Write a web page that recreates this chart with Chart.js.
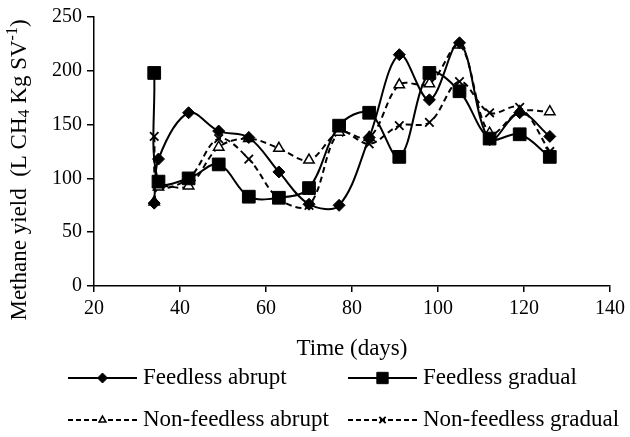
<!DOCTYPE html>
<html>
<head>
<meta charset="utf-8">
<script src="https://cdn.jsdelivr.net/npm/chart.js@4/dist/chart.umd.min.js"></script>
<style>
  html, body { margin: 0; padding: 0; background: #fff; }
  #wrap { width: 630px; height: 437px; }
</style>
</head>
<body>
<div id="wrap"><canvas id="methaneChart" width="630" height="437"></canvas></div>
<script>
// jours de mesure
const days = [34, 35, 42, 49, 56, 63, 70, 77, 84, 91, 98, 105, 112, 119, 126];

// rendement en méthane (L CH4 / Kg SV)
const feedlessAbrupt     = [77, 118, 161, 144, 138, 106, 76, 75, 138, 215, 173, 226, 136, 161, 139];
const feedlessGradual    = [198, 97, 100, 113, 83, 82, 91, 149, 161, 120, 198, 181, 137, 141, 120];
const nonFeedlessAbrupt  = [78, 92, 93, 129, 137, 128, 117, 143, 138, 187, 188, 224, 142, 162, 162];
const nonFeedlessGradual = [139, 93, 100, 137, 118, 81, 75, 143, 132, 149, 152, 190, 161, 166, 125];

const seriesNames = ['Feedless abrupt', 'Feedless gradual', 'Non-feedless abrupt', 'Non-feedless gradual'];
const xTicks = [20, 40, 60, 80, 100, 120, 140];
const yTicks = [0, 50, 100, 150, 200, 250];

const FONT = '"Liberation Serif", "DejaVu Serif", serif';

const toPoints = (vals) => days.map((d, i) => ({ x: d, y: vals[i] }));

// style of each series (line + marker), also used for the legend
const styles = [
  { dash: [], point: 'rectRot', radius: 6, fill: '#000', pw: 1, lr: 5 },
  { dash: [], point: 'rect', radius: 9, fill: '#000', pw: 1, lr: 8 },
  { dash: [6, 4], point: 'triangle', radius: 6, fill: '#fff', pw: 1.5, lr: 4 },
  { dash: [6, 4], point: 'crossRot', radius: 6, fill: '#000', pw: 1.8, lr: 4.5 }
];

const allValues = [feedlessAbrupt, feedlessGradual, nonFeedlessAbrupt, nonFeedlessGradual];

const datasets = allValues.map((vals, i) => ({
  label: seriesNames[i],
  data: toPoints(vals),
  showLine: true,
  borderColor: '#000',
  borderWidth: 2,
  borderDash: styles[i].dash,
  tension: 0.35,
  pointStyle: styles[i].point,
  pointRadius: styles[i].radius,
  pointBackgroundColor: styles[i].fill,
  pointBorderColor: '#000',
  pointBorderWidth: styles[i].pw
}));

// textes supplémentaires : titre de l'axe Y (indice / exposant), titre X, légende
const extraText = {
  id: 'extraText',
  afterDraw(chart) {
    const ctx = chart.ctx;
    const area = chart.chartArea;
    ctx.save();
    ctx.fillStyle = '#000';

    // titre axe Y
    const big = '23px ' + FONT;
    const small = '16px ' + FONT;
    const parts = [
      { t: 'Methane yield  (L CH', f: big, dy: 0 },
      { t: '4', f: small, dy: 5 },
      { t: ' Kg SV', f: big, dy: 0 },
      { t: '-1', f: small, dy: -7 },
      { t: ')', f: big, dy: 0 }
    ];
    let total = 0;
    parts.forEach(p => { ctx.font = p.f; total += ctx.measureText(p.t).width; });
    ctx.translate(20, 170);
    ctx.rotate(-Math.PI / 2);
    ctx.textBaseline = 'middle';
    ctx.textAlign = 'left';
    let px = -total / 2;
    parts.forEach(p => {
      ctx.font = p.f;
      ctx.fillText(p.t, px, p.dy);
      px += ctx.measureText(p.t).width;
    });
    ctx.restore();

    // titre axe X
    ctx.save();
    ctx.fillStyle = '#000';
    ctx.font = big;
    ctx.textAlign = 'center';
    ctx.textBaseline = 'middle';
    ctx.fillText('Time (days)', (area.left + area.right) / 2, 349);

    // légende
    const slots = [
      { x: 68, y: 378 }, { x: 348, y: 378 },
      { x: 68, y: 420 }, { x: 348, y: 420 }
    ];
    slots.forEach((s, i) => {
      const st = styles[i];
      ctx.strokeStyle = '#000';
      ctx.lineWidth = 2;
      ctx.setLineDash(st.dash.length ? [5, 3] : []);
      ctx.beginPath();
      ctx.moveTo(s.x, s.y);
      ctx.lineTo(s.x + 69, s.y);
      ctx.stroke();
      ctx.setLineDash([]);
      ctx.fillStyle = st.fill;
      ctx.lineWidth = st.pw;
      Chart.helpers.drawPoint(ctx, { pointStyle: st.point, radius: st.lr, rotation: 0, borderWidth: st.pw }, s.x + 34.5, s.y);
      ctx.fillStyle = '#000';
      ctx.font = big;
      ctx.textAlign = 'left';
      ctx.fillText(seriesNames[i], s.x + 75, s.y);
    });
    ctx.restore();
  }
};

new Chart(document.getElementById('methaneChart'), {
  type: 'scatter',
  data: { datasets: datasets },
  options: {
    responsive: false,
    animation: false,
    layout: { padding: { left: 34, right: 20, top: 8, bottom: 111 } },
    plugins: {
      legend: { display: false },
      tooltip: { enabled: false }
    },
    scales: {
      x: {
        type: 'linear',
        min: 20, max: 140,
        afterBuildTicks: (s) => { s.ticks = xTicks.map(v => ({ value: v })); },
        afterFit: (s) => { s.height = 40; },
        grid: { display: true, drawOnChartArea: false, drawTicks: true, tickLength: 6, color: '#000', lineWidth: 1.5 },
        border: { color: '#000', width: 1.5 },
        ticks: { color: '#000', font: { family: FONT, size: 20 }, padding: 5, maxRotation: 0 }
      },
      y: {
        type: 'linear',
        min: 0, max: 250,
        afterBuildTicks: (s) => { s.ticks = yTicks.map(v => ({ value: v })); },
        afterFit: (s) => { s.width = 60; },
        grid: { display: true, drawOnChartArea: false, drawTicks: true, tickLength: 7, color: '#000', lineWidth: 1.5 },
        border: { color: '#000', width: 1.5 },
        ticks: { color: '#000', font: { family: FONT, size: 20 }, padding: 5 }
      }
    }
  },
  plugins: [extraText]
});
</script>
</body>
</html>
